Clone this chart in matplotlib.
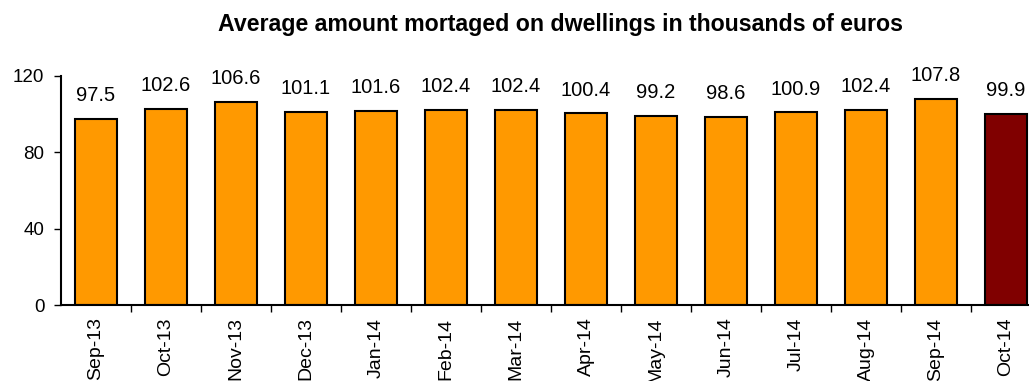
import numpy as np
import matplotlib.pyplot as plt

plt.rcParams['font.family'] = ['Liberation Sans', 'DejaVu Sans']

months = ['Sep-13', 'Oct-13', 'Nov-13', 'Dec-13', 'Jan-14', 'Feb-14', 'Mar-14',
          'Apr-14', 'May-14', 'Jun-14', 'Jul-14', 'Aug-14', 'Sep-14', 'Oct-14']
amount = [97.5, 102.6, 106.6, 101.1, 101.6, 102.4, 102.4,
          100.4, 99.2, 98.6, 100.9, 102.4, 107.8, 99.9]
yticks = [0, 40, 80, 120]

W, H = 1029, 381
fig = plt.figure(figsize=(W / 100, H / 100), dpi=100)
ax = fig.add_axes([61 / W, 76 / H, 980 / W, 229 / H])

x = np.arange(len(months))
colors = ['#FF9900'] * (len(months) - 1) + ['#800000']
ax.bar(x, amount, width=0.59, color=colors, edgecolor='black', linewidth=1.5)

for xi, v in zip(x, amount):
    ax.annotate(f'{v:.1f}', (xi, v), xytext=(0, 10), textcoords='offset points',
                ha='center', va='bottom', fontsize=14.5)

ax.set_xlim(-0.5, len(months) - 0.5)
ax.set_ylim(0, 120)
ax.set_yticks(yticks)
ax.tick_params(axis='y', labelsize=13.5, length=5, width=1, direction='out', pad=7)

ax.set_xticks(x)
ax.set_xticklabels(months, rotation=90, fontsize=14)
ax.tick_params(axis='x', which='major', length=0, pad=9)
ax.set_xticks(np.arange(len(months)) + 0.5, minor=True)
ax.tick_params(axis='x', which='minor', length=5, width=1, direction='out')

for s in ['top', 'right']:
    ax.spines[s].set_visible(False)
for s in ['left', 'bottom']:
    ax.spines[s].set_linewidth(1.5)

fig.text(560 / W, 1 - 25 / H, 'Average amount mortaged on dwellings in thousands of euros',
         ha='center', va='center', fontsize=16.7, fontweight='bold')

fig.savefig('out.png', dpi=100)
